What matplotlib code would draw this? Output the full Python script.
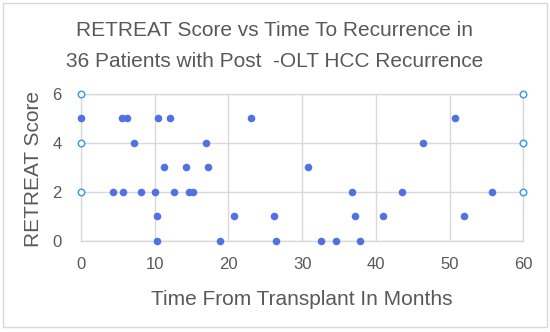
import matplotlib
matplotlib.use("Agg")
import matplotlib.pyplot as plt
from matplotlib.patches import Rectangle

months = [0, 5.6, 6.3, 10.4, 12.1, 23.0, 50.7,
          7.2, 16.9, 46.4,
          11.3, 14.3, 17.2, 30.8,
          4.4, 5.7, 8.1, 10.0, 12.6, 14.6, 15.2, 36.7, 43.6, 55.8,
          10.3, 20.8, 26.2, 37.2, 40.9, 52.0,
          10.3, 18.9, 26.4, 32.6, 34.6, 37.9]
scores = [5, 5, 5, 5, 5, 5, 5,
          4, 4, 4,
          3, 3, 3, 3,
          2, 2, 2, 2, 2, 2, 2, 2, 2, 2,
          1, 1, 1, 1, 1, 1,
          0, 0, 0, 0, 0, 0]
edge_x = [0, 0, 0, 60, 60, 60]
edge_y = [2, 4, 6, 2, 4, 6]
x_ticks = [0, 10, 20, 30, 40, 50, 60]
y_ticks = [0, 2, 4, 6]

plt.rcParams['font.family'] = ['Liberation Sans', 'DejaVu Sans']
txt = '#595959'
grid = '#d9d9d9'

fig = plt.figure(figsize=(5.5, 3.32), dpi=100)
fig.patch.set_facecolor('white')
fig.patches.append(Rectangle((2.5/550, 5/332), 544.5/550, 324.5/332, transform=fig.transFigure,
                             fill=False, edgecolor='#d9d9d9', linewidth=1))
ax = fig.add_axes([81/550, 1 - 240.7/332, (523.3 - 81)/550, (240.7 - 94)/332])
ax.set_xlim(0, 60)
ax.set_ylim(0, 6)
ax.set_xticks(x_ticks)
ax.set_yticks(y_ticks)
ax.grid(True, color=grid, linewidth=1)
ax.set_axisbelow(True)
for s in ax.spines.values():
    s.set_color(grid)
    s.set_linewidth(1)
ax.tick_params(length=0, colors=txt, labelsize=12)
ax.tick_params(axis='x', pad=11.5)
ax.tick_params(axis='y', pad=14)
ax.scatter(months, scores, s=30, color='#5272e3', zorder=3, clip_on=False, linewidths=0)
ax.scatter(edge_x, edge_y, s=22, facecolor='white', edgecolor='#3f9fe0', linewidths=1.1,
           zorder=4, clip_on=False)
ax.set_xlabel('Time From Transplant In Months', fontsize=15, color=txt, va='baseline')
ax.xaxis.set_label_coords(0.5, (240.7 - 305) / 146.7)
ax.set_ylabel('RETREAT Score', fontsize=15, color=txt, va='center')
ax.yaxis.set_label_coords((33.5 - 81) / 442.3, (240.7 - 169) / 146.7)
fig.text(0.5, 1 - 35.7/332, 'RETREAT Score vs Time To Recurrence in', ha='center', va='baseline',
         fontsize=15, color=txt)
fig.text(0.5, 1 - 66.7/332, '36 Patients with Post  -OLT HCC Recurrence', ha='center', va='baseline',
         fontsize=15, color=txt)
fig.savefig('out.png', dpi=100)
